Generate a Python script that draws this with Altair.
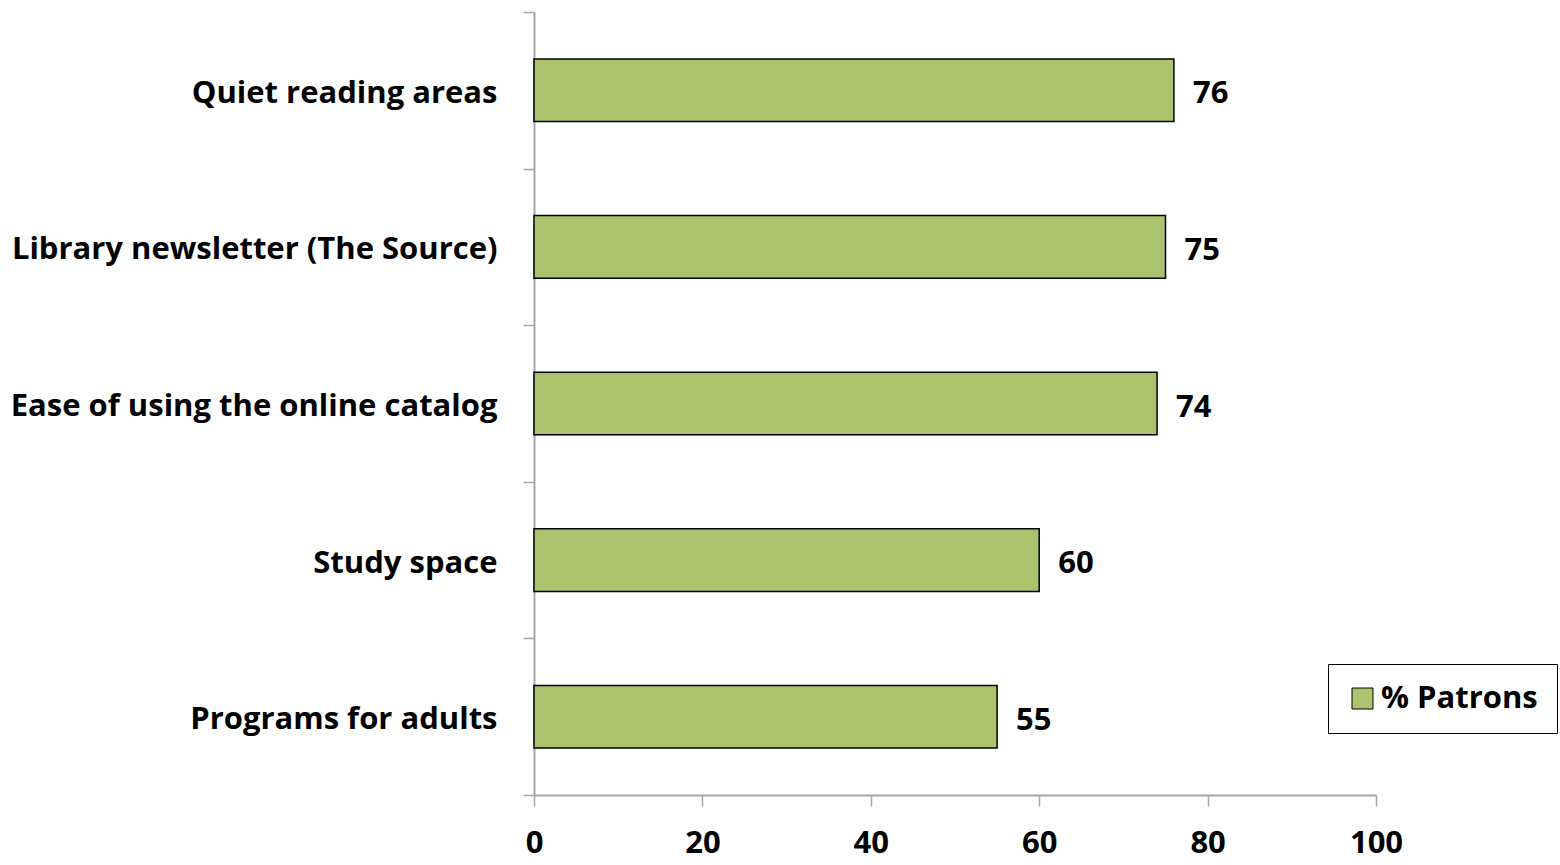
import altair as alt
import pandas as pd

categories = ["Quiet reading areas", "Library newsletter (The Source)",
              "Ease of using the online catalog", "Study space", "Programs for adults"]
values = [76, 75, 74, 60, 55]
series = ["% Patrons"] * len(categories)
x_ticks = [0, 20, 40, 60, 80, 100]

df = pd.DataFrame({"category": categories, "value": values, "series": series})

FONT = "Open Sans"
FS = 31
GREEN = "#a9c46c"
AXIS_GRAY = "#a6a6a6"

y_enc = alt.Y("category:N", sort=categories, title=None,
              scale=alt.Scale(paddingInner=0, paddingOuter=0),
              axis=alt.Axis(tickBand="extent", tickSize=11, tickColor=AXIS_GRAY,
                            domainColor=AXIS_GRAY, domainWidth=2, tickWidth=1.5,
                            labelFont=FONT, labelFontSize=FS, labelFontWeight="bold",
                            labelColor="black", labelPadding=26, labelLimit=600,
                            labelOffset=3))
x_enc = alt.X("value:Q", title=None,
              scale=alt.Scale(domain=[0, 100], nice=False),
              axis=alt.Axis(values=x_ticks, grid=False, tickSize=11, tickColor=AXIS_GRAY,
                            domainColor=AXIS_GRAY, domainWidth=2, tickWidth=1.5,
                            labelFlush=False,
                            labelFont=FONT, labelFontSize=FS, labelFontWeight="bold",
                            labelColor="black", labelPadding=22))

bars = alt.Chart(df).mark_bar(stroke="black", strokeWidth=1.5, height={"band": 0.4}).encode(
    y=y_enc, x=x_enc,
    color=alt.Color("series:N", title=None,
                    scale=alt.Scale(domain=["% Patrons"], range=[GREEN]),
                    legend=alt.Legend(orient="none", legendX=794, legendY=652,
                                      symbolType="square", symbolSize=440,
                                      symbolStrokeColor="black", symbolStrokeWidth=1,
                                      symbolOffset=0,
                                      labelFont=FONT, labelFontSize=FS, labelFontWeight="bold",
                                      labelColor="black", labelLimit=400,
                                      strokeColor="black", fillColor="white",
                                      padding=19, labelOffset=3))
)

labels = alt.Chart(df).mark_text(align="left", baseline="middle", dx=19, dy=4,
                                 font=FONT, fontSize=FS, fontWeight="bold",
                                 color="black").encode(
    y=alt.Y("category:N", sort=categories),
    x=alt.X("value:Q"),
    text=alt.Text("value:Q"),
)

chart = (bars + labels).properties(
    width=842, height=783,
    background="white",
    autosize=alt.AutoSizeParams(type="none"),
    padding={"left": 534, "top": 12, "right": 184, "bottom": 70},
).configure_view(strokeWidth=0)

chart.save("out.html", embed_options={"renderer": "svg", "actions": False})
